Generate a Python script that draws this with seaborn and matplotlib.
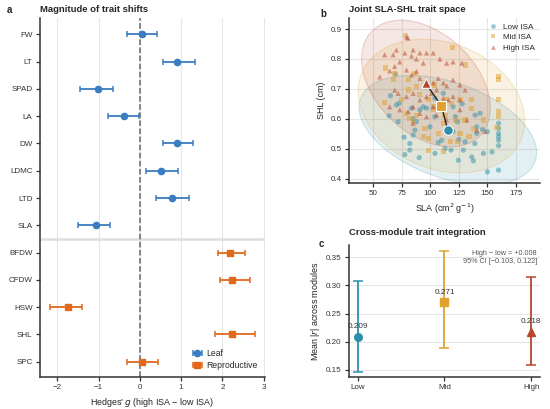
import numpy as np
import pandas as pd
import matplotlib
matplotlib.use("Agg")
import matplotlib.pyplot as plt
from matplotlib.patches import Ellipse
import seaborn as sns

# ---------------- data ----------------
# Panel a: Hedges' g effect sizes
leaf_traits = ["FW", "LT", "SPAD", "LA", "DW", "LDMC", "LTD", "SLA"]
leaf_g = [0.05, 0.91, -1.02, -0.39, 0.91, 0.52, 0.77, -1.07]
leaf_lo = [-0.31, 0.55, -1.44, -0.77, 0.57, 0.16, 0.40, -1.51]
leaf_hi = [0.41, 1.34, -0.65, -0.02, 1.29, 0.93, 1.19, -0.72]

rep_traits = ["BFDW", "CFDW", "HSW", "SHL", "SPC"]
rep_g = [2.18, 2.24, -1.75, 2.24, 0.06]
rep_lo = [1.90, 1.94, -2.18, 1.82, -0.30]
rep_hi = [2.55, 2.68, -1.41, 2.80, 0.43]

# Panel b: SLA-SHL trait space
low_sla = [69.7, 65.3, 64.1, 72.0, 70.5, 83.7, 85, 88, 85.1, 86.6, 82.2, 77.2, 82.2, 77.8, 90.4,
           99.8, 104, 107, 104.2, 110, 113, 118.2, 120, 123.7, 125, 129, 124.6, 130.5, 136.4, 137.8,
           139, 140.7, 140.7, 139.3, 143.7, 145.7, 150, 154, 159.8, 159.8, 159.8, 159.8, 159.8,
           159.8, 150, 159.7, 146.6, 122, 108.5, 111.5, 120, 128, 96.8, 94, 91, 104, 73]
low_shl = [0.749, 0.677, 0.61, 0.59, 0.646, 0.635, 0.60, 0.59, 0.545, 0.562, 0.517, 0.538, 0.495,
           0.48, 0.47, 0.573, 0.607, 0.52, 0.484, 0.528, 0.50, 0.495, 0.557, 0.59, 0.53,
           0.495, 0.461, 0.523, 0.472, 0.459, 0.517, 0.551, 0.573, 0.612, 0.618, 0.564, 0.557,
           0.489, 0.585, 0.568, 0.551, 0.54, 0.528, 0.51, 0.422, 0.428, 0.484, 0.607, 0.63,
           0.685, 0.64, 0.65, 0.635, 0.64, 0.63, 0.668, 0.652]

mid_sla = [78.4, 119.4, 131, 159.8, 159.8, 61.1, 67.6, 69, 60.2, 80.7, 86.6, 88, 80.7, 96.8,
           104, 98.6, 102.7, 108.5, 114.4, 118.8, 126, 136, 136, 113, 122, 130.5, 137.8, 88,
           79.3, 82.2, 85.1, 95.4, 94, 107, 111.5, 118, 123.7, 126, 134, 98.6, 111.5, 146.6,
           159.8, 159.8, 158.3, 159.8, 98.6, 102.7, 74.9, 91]
mid_shl = [0.878, 0.838, 0.78, 0.74, 0.73, 0.77, 0.73, 0.75, 0.654, 0.73, 0.75, 0.707, 0.696,
           0.707, 0.713, 0.663, 0.64, 0.64, 0.663, 0.65, 0.663, 0.663, 0.635, 0.612, 0.596,
           0.596, 0.568, 0.612, 0.618, 0.60, 0.59, 0.568, 0.54, 0.55, 0.585, 0.523, 0.523,
           0.55, 0.54, 0.495, 0.49, 0.596, 0.624, 0.607, 0.571, 0.663, 0.535, 0.63, 0.663, 0.68]

high_sla = [79.3, 80.7, 60.2, 67.6, 70.5, 73.4, 77.8, 83.7, 85.1, 88, 91, 94, 96.8, 102.7,
            108.5, 114.4, 120, 127.6, 55.9, 64.6, 68.9, 79.3, 88, 83.7, 91, 96.8, 102.7, 107,
            111.5, 114.4, 120, 126, 130.5, 69, 72, 79.3, 85.1, 91, 96.8, 101.2, 105.6, 111.5,
            116, 120, 126, 64.6, 73.4, 80.7, 85.1, 91, 96.8, 102.7, 105.6, 114.4, 126, 132,
            140.7, 148, 85]
high_shl = [0.873, 0.87, 0.814, 0.814, 0.83, 0.79, 0.82, 0.81, 0.83, 0.80, 0.82, 0.786, 0.82,
            0.82, 0.80, 0.786, 0.79, 0.786, 0.74, 0.76, 0.775, 0.763, 0.758, 0.747, 0.735,
            0.73, 0.72, 0.735, 0.72, 0.71, 0.73, 0.713, 0.696, 0.696, 0.685, 0.674, 0.685,
            0.663, 0.674, 0.685, 0.696, 0.668, 0.663, 0.674, 0.663, 0.64, 0.63, 0.624, 0.64,
            0.618, 0.607, 0.64, 0.612, 0.596, 0.63, 0.596, 0.562, 0.557, 0.585]

groups = ["Low ISA", "Mid ISA", "High ISA"]

# Panel c: cross-module integration
levels = ["Low", "Mid", "High"]
mean_r = [0.209, 0.271, 0.218]
r_lo = [0.146, 0.189, 0.158]
r_hi = [0.308, 0.362, 0.315]
diff_text = "High \u2212 low = +0.008\n95% CI [\u22120.103, 0.122]"

# ---------------- style ----------------
sns.set_theme(style="ticks")
plt.rcParams["font.family"] = ["Liberation Sans", "DejaVu Sans"]
plt.rcParams.update({
    "font.size": 6,
    "axes.labelsize": 6.4,
    "xtick.labelsize": 5.8,
    "ytick.labelsize": 5.8,
    "axes.edgecolor": "#333333",
    "axes.linewidth": 1.1,
    "xtick.color": "#333333",
    "ytick.color": "#333333",
    "axes.labelcolor": "#222222",
    "xtick.major.size": 2.8,
    "ytick.major.size": 2.8,
    "xtick.major.width": 0.9,
    "ytick.major.width": 0.9,
    "xtick.major.pad": 2.5,
    "ytick.major.pad": 2.5,
    "axes.labelpad": 3,
})

c_leaf = "#3a7dc0"
c_rep = "#e0691c"
pal = {"Low ISA": "#2e90a8", "Mid ISA": "#e0a02e", "High ISA": "#b5472a"}
markers = {"Low ISA": "o", "Mid ISA": "s", "High ISA": "^"}
grid_c = "#e6e6e6"

fig = plt.figure(figsize=(5.5, 4.09), dpi=100)
ax_a = fig.add_axes([0.0727, 0.0782, 0.409, 0.8778])
ax_b = fig.add_axes([0.6345, 0.5526, 0.3473, 0.4034])
ax_c = fig.add_axes([0.6345, 0.0782, 0.3473, 0.3227])

title_kw = dict(loc="left", fontweight="bold", fontsize=6.8, pad=4)

# ---------------- panel a ----------------
traits = leaf_traits + rep_traits
ypos_leaf = np.arange(len(leaf_traits))
ypos_rep = np.arange(len(leaf_traits), len(traits))
ax_a.errorbar(leaf_g, ypos_leaf,
              xerr=[np.array(leaf_g) - np.array(leaf_lo), np.array(leaf_hi) - np.array(leaf_g)],
              fmt="o", color=c_leaf, ms=4.5, capsize=2.2, elinewidth=1.3, capthick=1.1,
              label="Leaf", zorder=3)
ax_a.errorbar(rep_g, ypos_rep,
              xerr=[np.array(rep_g) - np.array(rep_lo), np.array(rep_hi) - np.array(rep_g)],
              fmt="s", color=c_rep, ms=4.5, capsize=2.2, elinewidth=1.3, capthick=1.1,
              label="Reproductive", zorder=3)
ax_a.axvline(0, color="#666666", ls="--", lw=1.1, zorder=2)
ax_a.axhline(len(leaf_traits) - 0.5, color="#dddddd", lw=1.8, zorder=1)
ax_a.set_yticks(np.arange(len(traits)))
ax_a.set_yticklabels(traits)
ax_a.set_ylim(len(traits) - 1 + 0.56, -0.6)
ax_a.set_xlim(-2.42, 3.03)
ax_a.set_xticks([-2, -1, 0, 1, 2, 3])
ax_a.set_xticklabels(["\u22122", "\u22121", "0", "1", "2", "3"])
ax_a.xaxis.grid(True, color=grid_c, lw=0.8)
ax_a.set_axisbelow(True)
ax_a.set_xlabel("Hedges' $g$ (high ISA \u2212 low ISA)")
ax_a.set_title("Magnitude of trait shifts", **title_kw)
sns.despine(ax=ax_a)
ax_a.legend(loc="lower right", frameon=False, fontsize=6.2, handletextpad=0.5,
            borderaxespad=0.4, handlelength=1.2, labelspacing=0.4)

# ---------------- panel b ----------------
df = pd.concat([
    pd.DataFrame({"SLA": low_sla, "SHL": low_shl, "group": "Low ISA"}),
    pd.DataFrame({"SLA": mid_sla, "SHL": mid_shl, "group": "Mid ISA"}),
    pd.DataFrame({"SLA": high_sla, "SHL": high_shl, "group": "High ISA"}),
], ignore_index=True)

n_std = 2.6
for g in groups:
    sub = df[df.group == g]
    x, y = sub.SLA.values, sub.SHL.values
    cov = np.cov(x, y)
    vals, vecs = np.linalg.eigh(cov)
    order = vals.argsort()[::-1]
    vals, vecs = vals[order], vecs[:, order]
    angle = np.degrees(np.arctan2(vecs[1, 0], vecs[0, 0]))
    w, h = 2 * n_std * np.sqrt(vals)
    e = Ellipse((x.mean(), y.mean()), w, h, angle=angle, facecolor=pal[g],
                edgecolor="none", alpha=0.13, zorder=1)
    ax_b.add_patch(e)
    e2 = Ellipse((x.mean(), y.mean()), w, h, angle=angle, facecolor="none",
                 edgecolor=pal[g], alpha=0.22, lw=0.8, zorder=1)
    ax_b.add_patch(e2)

sns.scatterplot(data=df, x="SLA", y="SHL", hue="group", style="group", palette=pal,
                markers=markers, s=14, alpha=0.5, linewidth=0, ax=ax_b, zorder=2)

cent = df.groupby("group", sort=False)[["SLA", "SHL"]].mean().loc[groups]
ax_b.plot(cent.SLA, cent.SHL, color="#222222", lw=1.0, zorder=3)
for g in groups:
    ax_b.scatter(cent.loc[g, "SLA"], cent.loc[g, "SHL"], marker=markers[g], s=48,
                 color=pal[g], edgecolor="white", linewidth=0.8, zorder=4)

ax_b.set_xlim(29, 196)
ax_b.set_ylim(0.385, 0.937)
ax_b.set_xticks([50, 75, 100, 125, 150, 175])
ax_b.set_yticks([0.4, 0.5, 0.6, 0.7, 0.8, 0.9])
ax_b.grid(True, color=grid_c, lw=0.8)
ax_b.set_axisbelow(True)
ax_b.set_xlabel("SLA (cm$^2$ g$^{-1}$)")
ax_b.set_ylabel("SHL (cm)")
ax_b.set_title("Joint SLA-SHL trait space", **title_kw)
sns.despine(ax=ax_b)
ax_b.legend(loc="upper right", frameon=False, fontsize=5.9, title=None,
            handletextpad=0.2, borderaxespad=0.2, markerscale=0.9, labelspacing=0.35)

# ---------------- panel c ----------------
cols = [pal[g] for g in groups]
mk = [markers[g] for g in groups]
for i, lev in enumerate(levels):
    ax_c.errorbar(i, mean_r[i], yerr=[[mean_r[i] - r_lo[i]], [r_hi[i] - mean_r[i]]],
                  fmt=mk[i], color=cols[i], ms=5.5, capsize=3.5, elinewidth=1.3, capthick=1.1,
                  zorder=3)
    ax_c.text(i, mean_r[i] + 0.011, f"{mean_r[i]:.3f}", ha="center", va="bottom",
              fontsize=5.9, color="#333333")
ax_c.set_xticks(range(len(levels)))
ax_c.set_xticklabels(levels)
ax_c.set_xlim(-0.1, 2.1)
ax_c.set_ylim(0.137, 0.372)
ax_c.set_yticks([0.15, 0.20, 0.25, 0.30, 0.35])
ax_c.set_yticklabels(["0.15", "0.20", "0.25", "0.30", "0.35"])
ax_c.yaxis.grid(True, color=grid_c, lw=0.8)
ax_c.set_axisbelow(True)
ax_c.set_ylabel("Mean |$r$| across modules")
ax_c.set_title("Cross-module trait integration", loc="left", fontweight="bold",
               fontsize=6.8, pad=7)
ax_c.text(0.985, 0.96, diff_text, transform=ax_c.transAxes, ha="right", va="top",
          fontsize=5.2, color="#555555", linespacing=1.2, multialignment="right")
sns.despine(ax=ax_c)

# panel letters
fig.text(0.013, 0.988, "a", fontweight="bold", fontsize=7, va="top")
fig.text(0.582, 0.978, "b", fontweight="bold", fontsize=7, va="top")
fig.text(0.580, 0.415, "c", fontweight="bold", fontsize=7, va="top")

fig.savefig("out.png", dpi=100)
